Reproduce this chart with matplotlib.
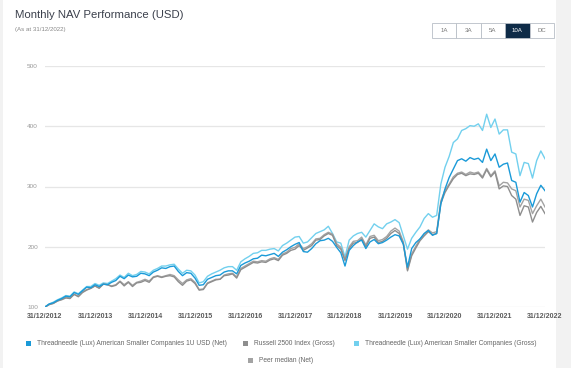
import matplotlib.pyplot as plt
from matplotlib.patches import Rectangle

plt.rcParams['font.family'] = ['Liberation Sans', 'DejaVu Sans']

# month-end index values, Dec 2012 .. Dec 2022 (121 points)
fund_net = [100, 105, 107, 111, 114, 118, 117, 124, 121, 127, 133, 132, 137,
            134, 138, 137, 141, 144, 151, 147, 153, 150, 151, 156, 155,
            152, 158, 161, 165, 164, 167, 168, 159, 152, 157, 156, 148,
            136, 137, 146, 149, 152, 153, 158, 160, 160, 155, 169, 173,
            176, 180, 181, 186, 185, 187, 189, 184, 191, 195, 200, 204,
            207, 192, 191, 197, 205, 210, 211, 214, 209, 199, 190, 168,
            194, 202, 208, 211, 197, 208, 212, 205, 207, 211, 216, 220,
            218, 204, 166, 197, 207, 213, 222, 227, 219, 222, 271, 296,
            315, 329, 343, 346, 342, 348, 345, 347, 340, 362, 343, 354,
            332, 337, 339, 310, 307, 274, 290, 285, 266, 288, 302, 293]

fund_gross = [100, 105, 108, 112, 115, 119, 118, 125, 122, 128, 134, 134, 139,
              136, 140, 139, 143, 147, 153, 149, 156, 152, 154, 159, 158,
              155, 161, 164, 168, 168, 170, 171, 163, 156, 161, 160, 153,
              140, 142, 151, 155, 158, 161, 165, 167, 167, 161, 175, 180,
              184, 189, 190, 194, 194, 196, 197, 193, 202, 206, 211, 216,
              217, 206, 208, 215, 222, 225, 228, 234, 222, 208, 206, 183,
              211, 218, 222, 224, 216, 227, 238, 233, 230, 238, 241, 245,
              240, 218, 196, 214, 224, 233, 247, 255, 249, 252, 304, 332,
              350, 373, 379, 393, 396, 401, 400, 404, 393, 420, 398, 412,
              387, 394, 394, 357, 354, 318, 340, 338, 314, 343, 359, 346]

russell = [100, 104, 106, 110, 112, 115, 114, 121, 117, 124, 128, 131, 135,
           131, 138, 137, 134, 136, 142, 135, 141, 134, 140, 141, 144,
           141, 149, 151, 149, 151, 152, 150, 142, 136, 143, 145, 139,
           128, 129, 139, 142, 145, 146, 152, 153, 155, 148, 162, 166,
           170, 174, 173, 175, 174, 178, 180, 177, 186, 189, 194, 196,
           202, 194, 198, 202, 211, 212, 218, 222, 219, 202, 196, 177,
           197, 206, 207, 213, 200, 214, 216, 207, 209, 214, 222, 227,
           222, 205, 160, 185, 198, 210, 218, 225, 220, 222, 272, 290,
           302, 313, 320, 322, 318, 321, 320, 322, 314, 328, 316, 324,
           296, 301, 300, 285, 279, 252, 268, 266, 241, 257, 267, 255]

peer = [100, 104, 106, 110, 113, 116, 115, 121, 118, 125, 129, 131, 135,
        132, 138, 137, 135, 137, 143, 137, 142, 136, 141, 143, 146,
        143, 150, 152, 150, 152, 154, 152, 145, 139, 145, 147, 141,
        129, 130, 140, 143, 146, 146, 153, 155, 156, 150, 164, 168,
        172, 176, 175, 177, 176, 180, 182, 179, 188, 191, 197, 199,
        205, 197, 200, 205, 213, 214, 220, 224, 221, 205, 199, 179,
        200, 209, 210, 216, 203, 217, 219, 210, 212, 217, 226, 231,
        226, 208, 162, 188, 201, 213, 221, 228, 223, 225, 276, 294,
        304, 316, 322, 324, 320, 324, 322, 324, 316, 330, 318, 326,
        301, 307, 306, 296, 293, 266, 279, 277, 255, 268, 279, 266]

year_labels = ["31/12/2012", "31/12/2013", "31/12/2014", "31/12/2015",
               "31/12/2016", "31/12/2017", "31/12/2018", "31/12/2019",
               "31/12/2020", "31/12/2021", "31/12/2022"]
y_ticks = [100, 200, 300, 400, 500]
names = ["Threadneedle (Lux) American Smaller Companies 1U USD (Net)",
         "Russell 2500 Index (Gross)",
         "Threadneedle (Lux) American Smaller Companies (Gross)",
         "Peer median (Net)"]
colors = ["#1a9ad8", "#8e8e8e", "#72d0ee", "#a3a3a3"]
buttons = ["1A", "3A", "5A", "10A", "DC"]

W, H = 571, 368
fig = plt.figure(figsize=(W / 100, H / 100), dpi=100, facecolor="#f2f2f2")
fig.add_artist(Rectangle((3 / W, 0), 553 / W, 1, transform=fig.transFigure,
                         facecolor="white", edgecolor="none", zorder=0))

fig.text(15 / W, 1 - 15 / H, "Monthly NAV Performance (USD)", fontsize=8.2,
         color="#3b404c", va="center")
fig.text(15 / W, 1 - 29.5 / H, "(As at 31/12/2022)", fontsize=4.4,
         color="#888888", va="center")

# period buttons
bw = 24.4
for i, b in enumerate(buttons):
    x0 = 432 + i * bw
    active = b == "10A"
    fig.add_artist(Rectangle((x0 / W, 1 - 38 / H), bw / W, 15 / H,
                             transform=fig.transFigure,
                             facecolor="#0e2b47" if active else "white",
                             edgecolor="#b8bec6", lw=0.6, zorder=2))
    fig.text((x0 + bw / 2) / W, 1 - 30.5 / H, b, fontsize=4.4,
             color="white" if active else "#777777",
             ha="center", va="center", zorder=3)

ax = fig.add_axes([45 / W, 1 - 307 / H, 500 / W, 241 / H])
ax.set_facecolor("none")
x = list(range(len(fund_net)))
ax.plot(x, fund_gross, color=colors[2], lw=1.0, zorder=3)
ax.plot(x, peer, color=colors[3], lw=1.0, zorder=4)
ax.plot(x, russell, color=colors[1], lw=1.0, zorder=5)
ax.plot(x, fund_net, color=colors[0], lw=1.0, zorder=6)

ax.set_xlim(0, 120)
ax.set_ylim(100, 500)
ax.set_yticks(y_ticks)
ax.set_yticklabels([str(v) for v in y_ticks], fontsize=4.6, color="#9a9a9a")
ax.set_xticks(range(0, 121, 12))
ax.set_xticklabels(year_labels, fontsize=5.0, color="#5a5a5a", fontweight="bold")
ax.tick_params(length=0, pad=5)
ax.tick_params(axis="x", pad=4)
ax.grid(axis="y", color="#e6e6e6", lw=0.9, zorder=0)
ax.set_axisbelow(True)
for s in ax.spines.values():
    s.set_visible(False)

# legend, drawn by hand so the last entry sits centred on its own row
legend_pos = [(26, 343.7), (243, 343.7), (354, 343.7), (248, 360)]
for (lx, ly), name, c in zip(legend_pos, names, colors):
    fig.add_artist(Rectangle((lx / W, 1 - (ly + 2.5) / H), 5 / W, 5 / H,
                             transform=fig.transFigure, facecolor=c,
                             edgecolor="none"))
    fig.text((lx + 11) / W, 1 - ly / H, name, fontsize=4.8, color="#666666",
             va="center")

fig.savefig("out.png", dpi=100, facecolor=fig.get_facecolor())
